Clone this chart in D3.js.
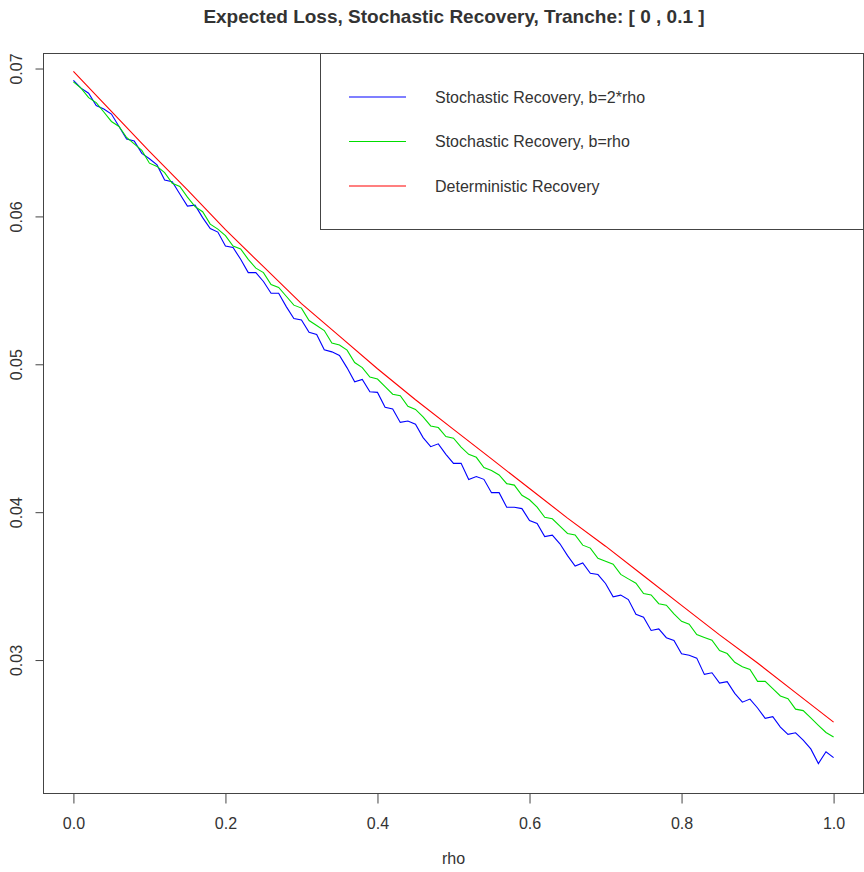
<!DOCTYPE html>
<html>
<head>
<meta charset="utf-8">
<script src="https://cdn.jsdelivr.net/npm/d3@7"></script>
<style>
  body { margin: 0; background: #fff; }
  text { font-family: "Liberation Sans", Arial, sans-serif; fill: #333; }
</style>
</head>
<body>
<svg id="chart" width="864" height="872"></svg>
<script>
// rho grid for the two simulated series (step 0.01)
var rhoFine = d3.range(101).map(i => i / 100);
// rho grid for the deterministic curve (step 0.05)
var rhoCoarse = d3.range(21).map(i => i / 20);

var blueVals = [
  0.06920, 0.06867, 0.06833, 0.06750, 0.06726, 0.06692, 0.06608, 0.06524, 0.06510, 0.06426,
  0.06390, 0.06348, 0.06246, 0.06234, 0.06152, 0.06070, 0.06076, 0.05992, 0.05918, 0.05894,
  0.05800, 0.05790, 0.05710, 0.05620, 0.05620, 0.05560, 0.05480, 0.05480, 0.05390, 0.05310,
  0.05300, 0.05216, 0.05202, 0.05098, 0.05084, 0.05060, 0.04976, 0.04882, 0.04898, 0.04814,
  0.04810, 0.04709, 0.04698, 0.04607, 0.04616, 0.04595, 0.04504, 0.04443, 0.04462, 0.04391,
  0.04330, 0.04330, 0.04221, 0.04241, 0.04222, 0.04132, 0.04132, 0.04033, 0.04033, 0.04024,
  0.03944, 0.03924, 0.03835, 0.03845, 0.03786, 0.03706, 0.03636, 0.03657, 0.03587, 0.03578,
  0.03518, 0.03428, 0.03439, 0.03409, 0.03310, 0.03290, 0.03200, 0.03211, 0.03151, 0.03132,
  0.03042, 0.03032, 0.03013, 0.02903, 0.02914, 0.02844, 0.02854, 0.02775, 0.02715, 0.02736,
  0.02676, 0.02606, 0.02617, 0.02547, 0.02498, 0.02508, 0.02458, 0.02399, 0.02300, 0.02380,
  0.02340
];

var greenVals = [
  0.06910, 0.06867, 0.06803, 0.06770, 0.06706, 0.06642, 0.06608, 0.06534, 0.06490, 0.06446,
  0.06360, 0.06338, 0.06296, 0.06224, 0.06202, 0.06130, 0.06066, 0.06032, 0.05948, 0.05914,
  0.05870, 0.05800, 0.05780, 0.05710, 0.05650, 0.05620, 0.05540, 0.05520, 0.05460, 0.05400,
  0.05380, 0.05296, 0.05262, 0.05228, 0.05144, 0.05130, 0.05096, 0.05012, 0.04978, 0.04914,
  0.04900, 0.04849, 0.04798, 0.04787, 0.04716, 0.04695, 0.04644, 0.04583, 0.04572, 0.04511,
  0.04500, 0.04440, 0.04391, 0.04371, 0.04302, 0.04282, 0.04252, 0.04193, 0.04183, 0.04114,
  0.04084, 0.04034, 0.03965, 0.03955, 0.03906, 0.03856, 0.03846, 0.03777, 0.03757, 0.03688,
  0.03668, 0.03648, 0.03579, 0.03549, 0.03520, 0.03450, 0.03440, 0.03381, 0.03371, 0.03312,
  0.03262, 0.03242, 0.03173, 0.03153, 0.03134, 0.03064, 0.03044, 0.02985, 0.02955, 0.02936,
  0.02856, 0.02856, 0.02807, 0.02757, 0.02738, 0.02668, 0.02658, 0.02609, 0.02559, 0.02510,
  0.02480
];

var redVals = [
  0.0698, 0.0671, 0.0644, 0.0618, 0.0591, 0.0566, 0.0541, 0.0519, 0.0497, 0.0476,
  0.0456, 0.0436, 0.0416, 0.0396, 0.0377, 0.0357, 0.0337, 0.0317, 0.0298, 0.0278,
  0.0258
];

var xTicks = [0, 0.2, 0.4, 0.6, 0.8, 1.0];
var yTicks = [0.03, 0.04, 0.05, 0.06, 0.07];

var legendLabels = [
  "Stochastic Recovery, b=2*rho",
  "Stochastic Recovery, b=rho",
  "Deterministic Recovery"
];
var seriesColors = ["#0000ff", "#00dd00", "#ff0000"];

var svg = d3.select("#chart");
var box = { left: 43, right: 863, top: 53, bottom: 793 };

var x = d3.scaleLinear().domain([-0.04, 1.04]).range([box.left, 864]);
var y = d3.scaleLinear().domain([0.02101, 0.07105]).range([box.bottom, box.top]);

var line = d3.line().x(d => x(d[0])).y(d => y(d[1]));

var series = [
  d3.zip(rhoFine, blueVals),
  d3.zip(rhoFine, greenVals),
  d3.zip(rhoCoarse, redVals)
];

svg.append("g").selectAll("path").data(series)
  .enter().append("path")
  .attr("d", line)
  .attr("fill", "none")
  .attr("stroke", (d, i) => seriesColors[i])
  .attr("stroke-width", 1.1);

// plot frame
svg.append("rect")
  .attr("x", box.left + 0.5).attr("y", box.top + 0.5)
  .attr("width", box.right - box.left).attr("height", box.bottom - box.top)
  .attr("fill", "none").attr("stroke", "#444");

// x axis
var xAxis = d3.axisBottom(x).tickValues(xTicks).tickSize(10).tickPadding(14)
  .tickFormat(d3.format(".1f"));
var gx = svg.append("g").attr("transform", "translate(0," + (box.bottom + 0.5) + ")").call(xAxis);
gx.select(".domain").remove();
gx.selectAll("line").attr("stroke", "#444");
gx.selectAll("text").style("font-size", "16px").attr("fill", "#333");

// y axis, labels turned sideways like R's default las=0
var yAxis = d3.axisLeft(y).tickValues(yTicks).tickSize(8).tickFormat(d3.format(".2f"));
var gy = svg.append("g").attr("transform", "translate(" + (box.left + 0.5) + ",0)").call(yAxis);
gy.select(".domain").remove();
gy.selectAll("line").attr("stroke", "#444");
gy.selectAll("text")
  .style("font-size", "16px").attr("fill", "#333")
  .attr("x", 0).attr("y", 0).attr("dy", "0.35em")
  .attr("text-anchor", "middle")
  .attr("transform", "translate(-27,0) rotate(-90)");

// title and axis label
svg.append("text")
  .attr("x", 454).attr("y", 23)
  .attr("text-anchor", "middle")
  .style("font-size", "19px").style("font-weight", "bold").attr("fill", "#111")
  .text("Expected Loss, Stochastic Recovery, Tranche: [ 0 , 0.1 ]");

svg.append("text")
  .attr("x", x(0.5)).attr("y", 864)
  .attr("text-anchor", "middle")
  .style("font-size", "16px")
  .text("rho");

// legend
var lg = svg.append("g");
lg.append("rect")
  .attr("x", 320.5).attr("y", box.top + 0.5)
  .attr("width", box.right - 320).attr("height", 176)
  .attr("fill", "#fff").attr("stroke", "#444");

var rows = lg.selectAll("g.row").data(legendLabels)
  .enter().append("g").attr("class", "row")
  .attr("transform", (d, i) => "translate(0," + (97 + i * 44.5) + ")");
rows.append("line")
  .attr("x1", 349).attr("x2", 406)
  .attr("stroke", (d, i) => seriesColors[i]).attr("stroke-width", 1.1);
rows.append("text")
  .attr("x", 435).attr("dy", "0.35em")
  .style("font-size", "16px")
  .text(d => d);
</script>
</body>
</html>
